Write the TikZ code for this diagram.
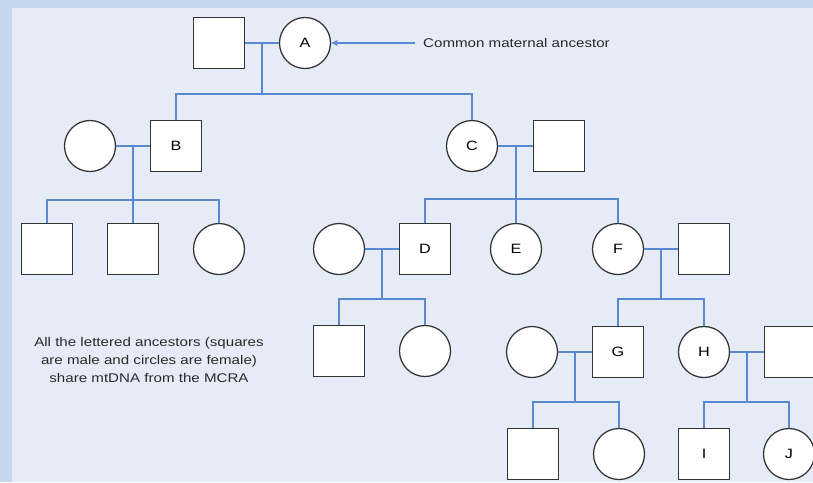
\documentclass[tikz,border=0pt]{standalone}
\usepackage{fontspec}
\setmainfont{Liberation Sans}
\newfontfamily\notefont[FakeStretch=1.2]{Liberation Sans}
\usepackage{xcolor}
\usetikzlibrary{arrows.meta}
\definecolor{panel}{HTML}{E6ECF7}
\definecolor{frame}{HTML}{C6D6EE}
\definecolor{linkblue}{HTML}{5A88CF}
\definecolor{edge}{HTML}{333333}
\definecolor{notegray}{HTML}{2A2A2A}

\begin{document}
\begin{tikzpicture}[x=1pt, y=-1pt,
    male/.style={rectangle, draw=edge, fill=white, line width=1.25pt, minimum size=51pt, inner sep=0pt, font=\notefont\fontsize{13.5}{14}\selectfont},
    female/.style={circle, draw=edge, fill=white, line width=1.25pt, minimum size=51pt, inner sep=0pt, font=\notefont\fontsize{13.5}{14}\selectfont},
    link/.style={draw=linkblue, line width=1.3pt},
    arrow/.style={-{Stealth[length=7pt, width=6pt]}, draw=linkblue, line width=1.1pt},
    note/.style={text=notegray, inner sep=0pt, font=\notefont\fontsize{12.6}{18}\selectfont}
]
\fill[frame] (0,0) rectangle (813,482);
\fill[panel] (12,8) rectangle (813,482);
\useasboundingbox (0,0) rectangle (813,482);

\node (Ahus) [male] at (219,43) {};
\node (A) [female] at (305,43) {A};
\node (B) [male] at (176,146) {B};
\node (Bwife) [female] at (90,146) {};
\node (C) [female] at (472,146) {C};
\node (Chus) [male] at (559,146) {};
\node (b1) [male] at (47,249) {};
\node (b2) [male] at (133,249) {};
\node (b3) [female] at (219,249) {};
\node (Dwife) [female] at (339,249) {};
\node (D) [male] at (425,249) {D};
\node (E) [female] at (516,249) {E};
\node (F) [female] at (618,249) {F};
\node (Fhus) [male] at (704,249) {};
\node (d1) [male] at (339,351) {};
\node (d2) [female] at (425,351) {};
\node (Gwife) [female] at (532,352) {};
\node (G) [male] at (618,352) {G};
\node (H) [female] at (704,352) {H};
\node (Hhus) [male] at (790,352) {};
\node (g1) [male] at (533,454) {};
\node (g2) [female] at (619,454) {};
\node (I) [male] at (704,454) {I};
\node (J) [female] at (789,454) {J};

\node (mcra) [note, anchor=west] at (423,43) {Common maternal ancestor};
\node (legend) [note, align=center] at (149,360) {All the lettered ancestors (squares\\are male and circles are female)\\share mtDNA from the MCRA};

\coordinate (mA) at (262,43);
\coordinate (kA) at (262,94);
\coordinate (mB) at (133,146);
\coordinate (kB) at (133,200);
\coordinate (mC) at (516,146);
\coordinate (kC) at (516,199);
\coordinate (mD) at (382,249);
\coordinate (kD) at (382,299);
\coordinate (mF) at (661,249);
\coordinate (kF) at (661,299);
\coordinate (mG) at (575,352);
\coordinate (kG) at (575,402);
\coordinate (mH) at (747,352);
\coordinate (kH) at (747,402);

\draw [link] (Ahus) -- (A);
\draw [link] (mA) -- (kA);
\draw [link] (kA) -| (B);
\draw [link] (kA) -| (C);
\draw [link] (Bwife) -- (B);
\draw [link] (mB) -- (kB);
\draw [link] (kB) -| (b1);
\draw [link] (kB) -- (b2);
\draw [link] (kB) -| (b3);
\draw [link] (C) -- (Chus);
\draw [link] (mC) -- (kC);
\draw [link] (kC) -| (D);
\draw [link] (kC) -- (E);
\draw [link] (kC) -| (F);
\draw [link] (Dwife) -- (D);
\draw [link] (mD) -- (kD);
\draw [link] (kD) -| (d1);
\draw [link] (kD) -| (d2);
\draw [link] (F) -- (Fhus);
\draw [link] (mF) -- (kF);
\draw [link] (kF) -| (G);
\draw [link] (kF) -| (H);
\draw [link] (Gwife) -- (G);
\draw [link] (mG) -- (kG);
\draw [link] (kG) -| (g1);
\draw [link] (kG) -| (g2);
\draw [link] (H) -- (Hhus);
\draw [link] (mH) -- (kH);
\draw [link] (kH) -| (I);
\draw [link] (kH) -| (J);
\draw [arrow, shorten <=8pt] (mcra.west) -- (A);
\end{tikzpicture}
\end{document}
